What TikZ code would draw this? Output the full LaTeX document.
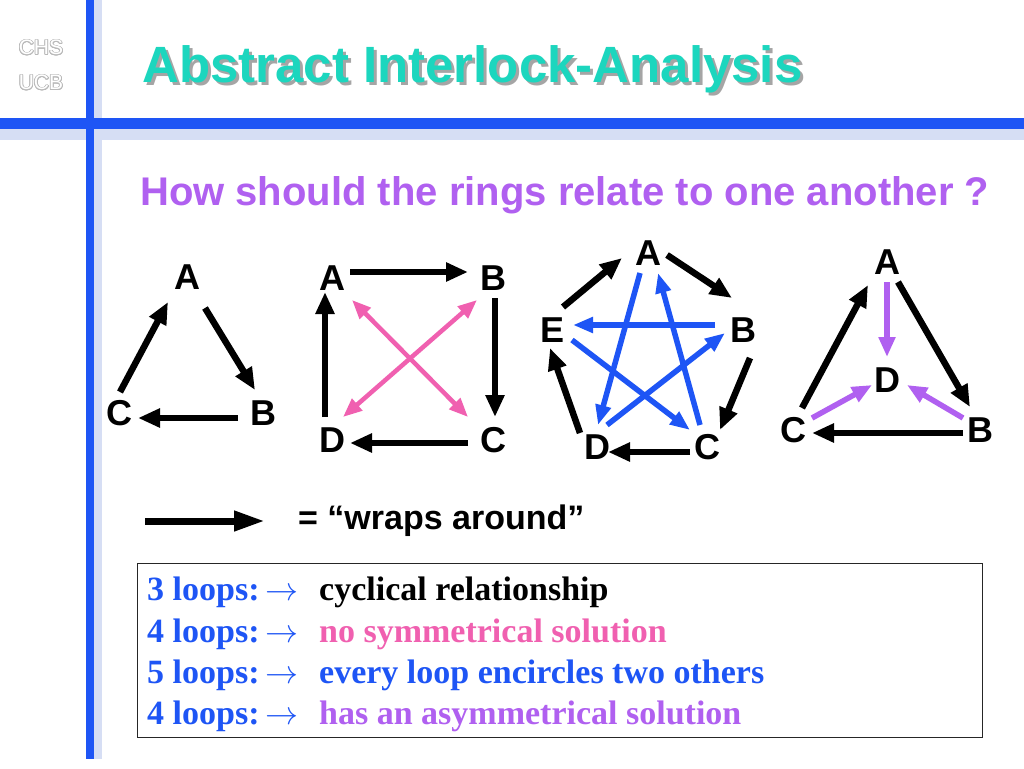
\documentclass[tikz,border=0pt]{standalone}
\usepackage{fontspec}
\setmainfont{Liberation Serif}
\setsansfont{Liberation Sans}
\usepackage{graphicx}
\usepackage[copies]{contour}
\contourlength{0.8pt}
\usetikzlibrary{arrows.meta}
\definecolor{mblue}{RGB}{30,85,245}
\definecolor{band}{RGB}{214,222,244}
\definecolor{tealt}{RGB}{28,214,190}
\definecolor{mpurple}{RGB}{176,96,240}
\definecolor{mpink}{RGB}{240,96,176}
\definecolor{shadowg}{RGB}{165,165,165}
\definecolor{cornerg}{RGB}{185,185,185}
\newcommand{\boxarrow}{\resizebox{33pt}{!}{$\rightarrow$}}
\tikzset{
  lab/.style={font=\sffamily\bfseries\fontsize{36}{36}\selectfont, inner sep=0pt},
  blk/.style={line width=6.5pt, -{Triangle[length=22pt,width=18pt]}},
  bluearr/.style={line width=5.5pt, mblue, -{Triangle[length=20pt,width=15pt]}},
  purarr/.style={line width=5.5pt, mpurple, -{Triangle[length=20pt,width=16pt]}},
  pinkarr/.style={line width=4.5pt, mpink, {Triangle[length=19pt,width=15pt]}-{Triangle[length=19pt,width=15pt]}},
  legarrow/.style={line width=7pt, -{Triangle[length=31pt,width=19pt]}},
  boxtxt/.style={font=\rmfamily\bfseries\fontsize{34}{34}\selectfont, inner sep=0pt, anchor=base west},
  corner/.style={font=\sffamily\fontsize{21}{21}\selectfont, inner sep=0pt, text=white}
}
\begin{document}
\begin{tikzpicture}[x=1pt,y=-1pt]
\useasboundingbox (0,0) rectangle (1024,768);
\fill[white] (0,0) rectangle (1024,768);
% frame lines
\fill[band] (94,0) rectangle (102,759);
\fill[band] (0,129) rectangle (1024,140);
\fill[mblue] (86,0) rectangle (94,759);
\fill[mblue] (0,118) rectangle (1024,129);
% corner text
\node (chs) [corner] at (41,48) {\contour{cornerg}{CHS}};
\node (ucb) [corner] at (41,83) {\contour{cornerg}{UCB}};
% title
\node (titleshadow) [anchor=base west, inner sep=0pt, text=shadowg, font=\sffamily\bfseries\fontsize{51}{51}\selectfont] at (145,85) {Abstract Interlock-Analysis};
\node (title) [anchor=base west, inner sep=0pt, text=tealt, font=\sffamily\bfseries\fontsize{51}{51}\selectfont] at (142,82) {Abstract Interlock-Analysis};
% subtitle
\node (sub) [anchor=base west, inner sep=0pt, text=mpurple, font=\sffamily\bfseries\fontsize{40}{40}\selectfont] at (140,205) {How should the rings relate to one another ?};

% diagram 1
\node (a1) [lab] at (187,277) {A};
\node (b1) [lab] at (263,413) {B};
\node (c1) [lab] at (119,413) {C};
\draw[blk] ([shift={(1,-21)}]c1.center) -- ([shift={(-19,25)}]a1.center);
\draw[blk] ([shift={(18,31)}]a1.center) -- ([shift={(-8,-23)}]b1.center);
\draw[blk] ([shift={(-25,5)}]b1.center) -- ([shift={(19,5)}]c1.center);

% diagram 2
\node (a2) [lab] at (332,278) {A};
\node (b2) [lab] at (493,278) {B};
\node (c2) [lab] at (493,440) {C};
\node (d2) [lab] at (332,440) {D};
\draw[blk] ([shift={(18,-6)}]a2.center) -- ([shift={(-25,-6)}]b2.center);
\draw[blk] ([shift={(2,20)}]b2.center) -- ([shift={(2,-23)}]c2.center);
\draw[blk] ([shift={(-25,3)}]c2.center) -- ([shift={(18,3)}]d2.center);
\draw[blk] ([shift={(-7,-23)}]d2.center) -- ([shift={(-7,14)}]a2.center);
\draw[pinkarr] ([shift={(11,-23)}]d2.center) -- ([shift={(-16,22)}]b2.center);
\draw[pinkarr] ([shift={(20,22)}]a2.center) -- ([shift={(-25,-23)}]c2.center);

% diagram 3
\node (a3) [lab] at (648,253) {A};
\node (b3) [lab] at (743,330) {B};
\node (c3) [lab] at (707,447) {C};
\node (d3) [lab] at (597,447) {D};
\node (e3) [lab] at (552,330) {E};
\draw[blk] ([shift={(11,-23)}]e3.center) -- ([shift={(-26,5)}]a3.center);
\draw[blk] ([shift={(19,2)}]a3.center) -- ([shift={(-11,-32)}]b3.center);
\draw[blk] ([shift={(7,28)}]b3.center) -- ([shift={(13,-17)}]c3.center);
\draw[blk] ([shift={(-17,5)}]c3.center) -- ([shift={(11,5)}]d3.center);
\draw[blk] ([shift={(-17,-14)}]d3.center) -- ([shift={(-2,18)}]e3.center);
\draw[bluearr] ([shift={(-8,20)}]a3.center) -- ([shift={(1,-22)}]d3.center);
\draw[bluearr] ([shift={(-28,-5)}]b3.center) -- ([shift={(21,-5)}]e3.center);
\draw[bluearr] ([shift={(-7,-22)}]c3.center) -- ([shift={(10,20)}]a3.center);
\draw[bluearr] ([shift={(10,-22)}]d3.center) -- ([shift={(-18,3)}]b3.center);
\draw[bluearr] ([shift={(20,10)}]e3.center) -- ([shift={(-17,-17)}]c3.center);

% diagram 4
\node (a4) [lab] at (887,262) {A};
\node (d4) [lab] at (887,380) {D};
\node (c4) [lab] at (793,430) {C};
\node (b4) [lab] at (980,430) {B};
\draw[blk] ([shift={(9,-22)}]c4.center) -- ([shift={(-19,23)}]a4.center);
\draw[blk] ([shift={(11,20)}]a4.center) -- ([shift={(-10,-23)}]b4.center);
\draw[blk] ([shift={(-17,3)}]b4.center) -- ([shift={(19,3)}]c4.center);
\draw[purarr] ([shift={(0,20)}]a4.center) -- ([shift={(0,-23)}]d4.center);
\draw[purarr] ([shift={(19,-12)}]c4.center) -- ([shift={(-15,5)}]d4.center);
\draw[purarr] ([shift={(-17,-12)}]b4.center) -- ([shift={(20,5)}]d4.center);

% legend
\coordinate (ls) at (145,521);
\coordinate (le) at (265,521);
\draw[legarrow] (ls) -- (le);
\node (leg) [anchor=base west, inner sep=0pt, font=\sffamily\bfseries\fontsize{34}{34}\selectfont] at (298,529) {= “wraps around”};

% box
\node (box) [draw=black!85, line width=1.2pt, anchor=north west, inner sep=0pt, minimum width=845pt, minimum height=174pt] at (137,563) {};
\node (l1a) [boxtxt, text=mblue] at (147,600) {3 loops:\,\boxarrow};
\node (l1b) [boxtxt, text=black] at (319,600) {cyclical relationship};
\node (l2a) [boxtxt, text=mblue] at (147,642) {4 loops:\,\boxarrow};
\node (l2b) [boxtxt, text=mpink] at (319,642) {no symmetrical solution};
\node (l3a) [boxtxt, text=mblue] at (147,683) {5 loops:\,\boxarrow};
\node (l3b) [boxtxt, text=mblue] at (319,683) {every loop encircles two others};
\node (l4a) [boxtxt, text=mblue] at (147,724) {4 loops:\,\boxarrow};
\node (l4b) [boxtxt, text=mpurple] at (319,724) {has an asymmetrical solution};
\end{tikzpicture}
\end{document}
